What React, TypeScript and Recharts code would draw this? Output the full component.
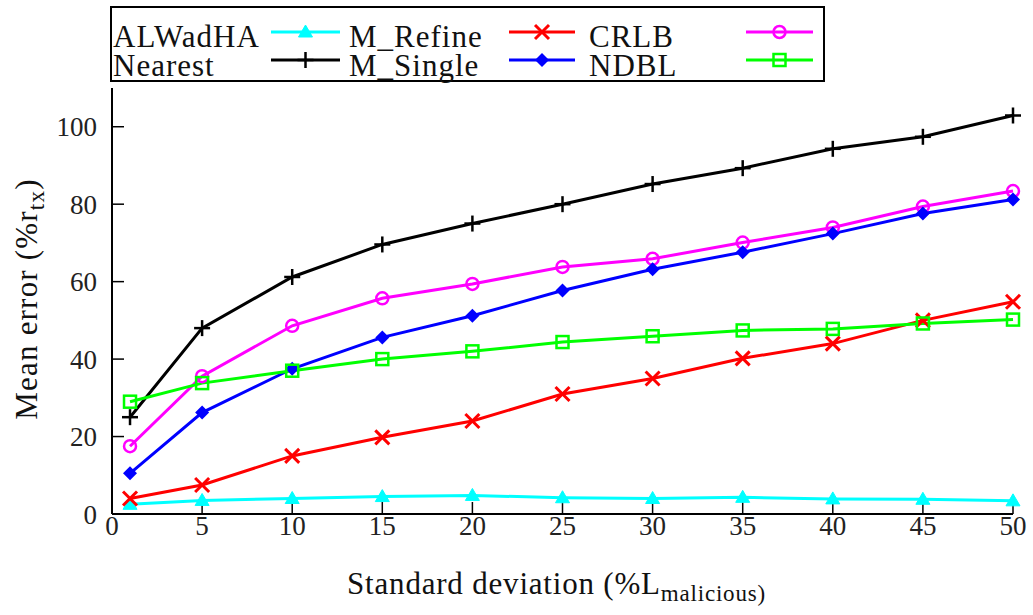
import React from 'react'
import { LineChart, Line, XAxis, YAxis, Label } from 'recharts'

// x positions (standard deviation, % of L_malicious)
const stdDev = [1, 5, 10, 15, 20, 25, 30, 35, 40, 45, 50]

// series values (mean error, % of r_tx)
const cyanSeries = [2.5, 3.5, 4.0, 4.5, 4.8, 4.2, 4.0, 4.3, 3.9, 3.8, 3.4]
const blackSeries = [25, 48, 61.2, 69.6, 75, 80, 85.2, 89.3, 94.3, 97.4, 102.9]
const redSeries = [4, 7.5, 15, 19.8, 24, 31, 35, 40.2, 44, 50, 54.8]
const blueSeries = [10.5, 26.2, 37.5, 45.6, 51.2, 57.7, 63.2, 67.6, 72.4, 77.6, 81.2]
const magentaSeries = [17.5, 35.6, 48.6, 55.7, 59.4, 63.8, 65.9, 70.1, 74, 79.4, 83.4]
const greenSeries = [29, 33.8, 37, 40, 42, 44.4, 45.9, 47.4, 47.8, 49.2, 50.2]

const xTicks = [0, 5, 10, 15, 20, 25, 30, 35, 40, 45, 50]
const yTicks = [0, 20, 40, 60, 80, 100]

// gnuplot-style key: text label followed by the sample of the next plot
const keyLabels = ['ALWadHA', 'M_Refine', 'CRLB', 'Nearest', 'M_Single', 'NDBL']

type Shape = 'triangle' | 'plus' | 'cross' | 'diamond' | 'circle' | 'square'

const series: { key: string; color: string; shape: Shape; values: number[] }[] = [
  { key: 'cyan', color: '#00ffff', shape: 'triangle', values: cyanSeries },
  { key: 'red', color: '#ff0000', shape: 'cross', values: redSeries },
  { key: 'magenta', color: '#ff00ff', shape: 'circle', values: magentaSeries },
  { key: 'black', color: '#000000', shape: 'plus', values: blackSeries },
  { key: 'blue', color: '#0000ff', shape: 'diamond', values: blueSeries },
  { key: 'green', color: '#00ff00', shape: 'square', values: greenSeries },
]

const data = stdDev.map((x, i) => {
  const row: Record<string, number> = { x }
  series.forEach(s => { row[s.key] = s.values[i] })
  return row
})

const FONT = 'Liberation Serif, serif'

const drawMarker = (shape: Shape, color: string, cx: number, cy: number, key?: string) => {
  switch (shape) {
    case 'triangle':
      return <polygon key={key} points={`${cx},${cy - 7} ${cx - 7},${cy + 5} ${cx + 7},${cy + 5}`} fill={color} stroke={color} strokeWidth={1} />
    case 'plus':
      return (
        <g key={key} stroke={color} strokeWidth={2.5}>
          <line x1={cx - 8} y1={cy} x2={cx + 8} y2={cy} />
          <line x1={cx} y1={cy - 8} x2={cx} y2={cy + 8} />
        </g>
      )
    case 'cross':
      return (
        <g key={key} stroke={color} strokeWidth={3}>
          <line x1={cx - 7} y1={cy - 7} x2={cx + 7} y2={cy + 7} />
          <line x1={cx - 7} y1={cy + 7} x2={cx + 7} y2={cy - 7} />
        </g>
      )
    case 'diamond':
      return <polygon key={key} points={`${cx},${cy - 7} ${cx + 7},${cy} ${cx},${cy + 7} ${cx - 7},${cy}`} fill={color} />
    case 'circle':
      return <circle key={key} cx={cx} cy={cy} r={6} fill="none" stroke={color} strokeWidth={2.5} />
    case 'square':
      return <rect key={key} x={cx - 6} y={cy - 6} width={12} height={12} fill="none" stroke={color} strokeWidth={2.5} />
  }
}

const makeDot = (shape: Shape, color: string) => (props: any) => {
  const { cx, cy, index } = props
  if (cx == null || cy == null) return <g key={`d-${index}`} />
  return drawMarker(shape, color, cx, cy, `${shape}-${index}`)
}

const textStyle = { fontFamily: FONT }

const XTitle = (props: any) => {
  const { viewBox } = props
  const cx = viewBox.x + viewBox.width / 2 - 6
  return (
    <text x={cx} y={viewBox.y + 80} textAnchor="middle" style={textStyle} fontSize={31} letterSpacing={0.8} fill="#111">
      <tspan>Standard deviation (%L</tspan>
      <tspan fontSize={23} dy={7}>malicious)</tspan>
    </text>
  )
}

const YTitle = (props: any) => {
  const { viewBox } = props
  const cy = 299
  const cx = 37
  return (
    <text x={cx} y={cy} textAnchor="middle" style={textStyle} fontSize={31} letterSpacing={1.2} fill="#111" transform={`rotate(-90 ${cx} ${cy})`}>
      <tspan>Mean error (%r</tspan>
      <tspan fontSize={23} dy={7}>tx</tspan>
      <tspan dy={-7}>)</tspan>
    </text>
  )
}

// key layout
const keyBox = { x: 111, y: 7, w: 713, h: 74 }
const keyTextX = [113, 349, 589]
const keySample = [[271, 340], [509, 575], [746, 813]]
const keyRowY = [32, 60]
const keyTextY = [47, 76]

const Key = () => (
  <svg width={1033} height={90} style={{ position: 'absolute', left: 0, top: 0 }}>
    <rect x={keyBox.x} y={keyBox.y} width={keyBox.w} height={keyBox.h} fill="white" stroke="#000" strokeWidth={2} />
    {keyLabels.map((label, i) => {
      const row = Math.floor(i / 3)
      const col = i % 3
      const s = series[i]
      const [x1, x2] = keySample[col]
      return (
        <g key={label}>
          <text x={keyTextX[col]} y={keyTextY[row]} style={textStyle} fontSize={31} letterSpacing={1} fill="#111">{label}</text>
          <line x1={x1} y1={keyRowY[row]} x2={x2} y2={keyRowY[row]} stroke={s.color} strokeWidth={3} />
          {drawMarker(s.shape, s.color, (x1 + x2) / 2, keyRowY[row])}
        </g>
      )
    })}
  </svg>
)

const tickStyle = { fontFamily: FONT, fontSize: 27, fill: '#222', style: textStyle }

export default function App() {
  return (
    <div style={{ position: 'absolute', left: 0, top: 0, width: 1033, height: 615, background: '#fff', fontFamily: FONT }}>
      <LineChart width={1033} height={615} data={data} margin={{ top: 88, right: 20, bottom: 0, left: 0 }}>
        <XAxis
          xAxisId="bottom"
          dataKey="x"
          type="number"
          domain={[0, 50]}
          ticks={xTicks}
          height={101}
          tick={tickStyle}
          tickSize={-12}
          tickMargin={14}
          axisLine={{ stroke: '#000', strokeWidth: 2 }}
          tickLine={{ stroke: '#000', strokeWidth: 1.5 }}
        >
          <Label content={XTitle} />
        </XAxis>
        <XAxis
          xAxisId="top"
          orientation="top"
          dataKey="x"
          type="number"
          domain={[0, 50]}
          ticks={xTicks}
          height={0}
          tick={false}
          tickSize={-12}
          axisLine={{ stroke: '#000', strokeWidth: 2 }}
          tickLine={{ stroke: '#000', strokeWidth: 1.5 }}
        />
        <YAxis
          yAxisId="left"
          type="number"
          domain={[0, 110]}
          ticks={yTicks}
          width={112}
          tick={tickStyle}
          tickSize={-12}
          tickMargin={27}
          axisLine={{ stroke: '#000', strokeWidth: 2 }}
          tickLine={{ stroke: '#000', strokeWidth: 1.5 }}
        >
          <Label content={YTitle} />
        </YAxis>
        <YAxis
          yAxisId="right"
          orientation="right"
          type="number"
          domain={[0, 110]}
          ticks={yTicks}
          width={0}
          tick={false}
          tickSize={-12}
          axisLine={{ stroke: '#000', strokeWidth: 2 }}
          tickLine={{ stroke: '#000', strokeWidth: 1.5 }}
        />
        {series.map(s => (
          <Line
            key={s.key}
            xAxisId="bottom"
            yAxisId="left"
            type="linear"
            dataKey={s.key}
            stroke={s.color}
            strokeWidth={3}
            dot={makeDot(s.shape, s.color)}
            activeDot={false}
            isAnimationActive={false}
          />
        ))}
      </LineChart>
      <Key />
    </div>
  )
}
